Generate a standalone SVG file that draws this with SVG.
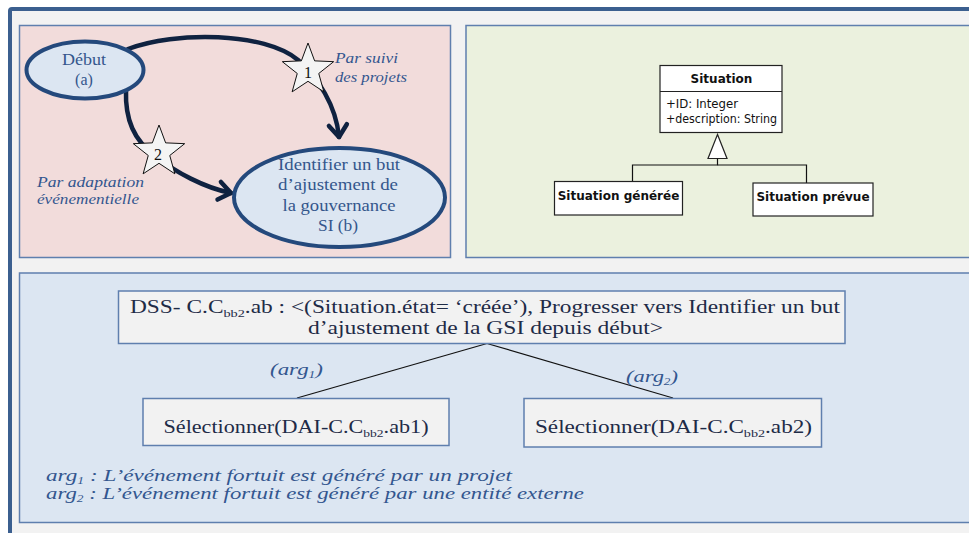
<svg xmlns="http://www.w3.org/2000/svg" width="969" height="533" viewBox="0 0 969 533">
<style>
.panel{stroke:#5f7fae;stroke-width:1.5}
.serif{font-family:"Liberation Serif","Times New Roman",serif}
.lbl{fill:#33568f;font-style:italic}
.node{fill:#dce6f2;stroke:#24497c;stroke-width:4}
.ntxt{fill:#34568c;font-size:16px;text-anchor:middle}
.arrow{fill:none;stroke:#0f2240;stroke-width:4.5;stroke-linecap:round}
.star{fill:#f4f4f4;stroke:#111;stroke-width:1}
.uml{fill:#fff;stroke:#222;stroke-width:1.2}
.umlt{font-family:"DejaVu Sans","Liberation Sans",sans-serif;font-size:12px;fill:#111}
.box{fill:#f2f2f2;stroke:#5f7fae;stroke-width:1.5}
.btxt{fill:#1e2b47;font-size:18px}
.link{stroke:#111;stroke-width:1.2;fill:none}
</style>
<defs>
<marker id="chev" markerUnits="userSpaceOnUse" markerWidth="30" markerHeight="30" viewBox="-16 -15 20 30" refX="0" refY="0" orient="auto">
<path d="M-12,-9 L0,0 L-12,9" fill="none" stroke="#0f2240" stroke-width="4.5" stroke-linecap="round" stroke-linejoin="round"/>
</marker>
<polygon id="starShape" points="0,-27 6.64,-9.14 25.68,-8.34 10.75,3.49 15.87,21.84 0,11.3 -15.87,21.84 -10.75,3.49 -25.68,-8.34 -6.64,-9.14"/>
</defs>
<rect x="0" y="0" width="969" height="533" fill="#ffffff"/>
<rect x="10" y="9" width="990" height="560" rx="2" fill="#f2f2f2" stroke="#3b5f8f" stroke-width="4"/>
<rect class="panel" x="19.5" y="25.5" width="431" height="232" fill="#f2dcdb"/>
<rect class="panel" x="466" y="25.5" width="520" height="232" fill="#ebf1de"/>
<rect class="panel" x="19.5" y="273" width="970" height="249.5" fill="#dce6f2"/>

<g id="connectors">
<path class="arrow" d="M128,49 C175,31 265,32 298,60 C318,78 336,105 339,137" marker-end="url(#chev)"/>
<path class="arrow" d="M126,90 C125,120 134,140 155,156 C175,172 205,188 231,193" marker-end="url(#chev)"/>
<line class="link" x1="487" y1="343.5" x2="297" y2="398"/>
<line class="link" x1="487" y1="343.5" x2="673" y2="398"/>
<g id="uml-generalization">
<polygon points="717.5,134.5 708,158.5 727,158.5" fill="#fff" stroke="#222" stroke-width="1.2"/>
<polyline points="717.5,158.5 717.5,165 632.5,165 632.5,181.5" class="link"/>
<polyline points="717.5,165 806.5,165 806.5,183" class="link"/>
</g>
</g>

<g id="star1">
<use href="#starShape" class="star" transform="translate(308,70)"/>
<text class="serif" x="308" y="77.5" font-size="16" text-anchor="middle" fill="#111">1</text>
</g>
<g id="star2">
<use href="#starShape" class="star" transform="translate(159,152)"/>
<text class="serif" x="158" y="159.5" font-size="16" text-anchor="middle" fill="#111">2</text>
</g>

<g id="debut">
<ellipse class="node" cx="85" cy="70" rx="58.5" ry="28.5"/>
<text class="serif ntxt" x="84" y="65" textLength="44" lengthAdjust="spacingAndGlyphs">Début</text>
<text class="serif ntxt" x="84" y="85">(a)</text>
</g>
<g id="identifier">
<ellipse class="node" cx="339.5" cy="197.5" rx="105.5" ry="49.5"/>
<text class="serif ntxt" x="339" y="170" textLength="122" lengthAdjust="spacingAndGlyphs">Identifier un but</text>
<text class="serif ntxt" x="338" y="190" textLength="120" lengthAdjust="spacingAndGlyphs">d’ajustement de</text>
<text class="serif ntxt" x="339" y="211" textLength="113" lengthAdjust="spacingAndGlyphs">la gouvernance</text>
<text class="serif ntxt" x="338" y="231" textLength="40" lengthAdjust="spacingAndGlyphs">SI (b)</text>
</g>
<g id="labels-left">
<text class="serif lbl" x="335" y="63" font-size="15" textLength="63" lengthAdjust="spacingAndGlyphs">Par suivi</text>
<text class="serif lbl" x="335" y="82" font-size="15" textLength="72" lengthAdjust="spacingAndGlyphs">des projets</text>
<text class="serif lbl" x="37" y="187" font-size="15" textLength="107" lengthAdjust="spacingAndGlyphs">Par adaptation</text>
<text class="serif lbl" x="37" y="204" font-size="15" textLength="102" lengthAdjust="spacingAndGlyphs">événementielle</text>
</g>

<g id="situation">
<rect class="uml" x="660" y="65.5" width="122" height="67"/>
<line x1="660" y1="91.5" x2="782" y2="91.5" stroke="#222" stroke-width="1.2"/>
<text class="umlt" x="721.5" y="83" font-weight="bold" text-anchor="middle">Situation</text>
<text class="umlt" x="666" y="108" font-size="11" textLength="72" lengthAdjust="spacingAndGlyphs">+ID: Integer</text>
<text class="umlt" x="666" y="123" font-size="11" textLength="111" lengthAdjust="spacingAndGlyphs">+description: String</text>
</g>
<g id="situation-generee">
<rect class="uml" x="554.5" y="181.5" width="128" height="33.5"/>
<text class="umlt" x="618.5" y="199.5" font-weight="bold" text-anchor="middle">Situation générée</text>
</g>
<g id="situation-prevue">
<rect class="uml" x="753" y="183" width="120" height="33"/>
<text class="umlt" x="813" y="201" font-weight="bold" text-anchor="middle">Situation prévue</text>
</g>

<g id="dss">
<rect class="box" x="118.5" y="291" width="726.5" height="52.5"/>
<text class="serif btxt" x="130" y="313" textLength="710" lengthAdjust="spacingAndGlyphs">DSS- C.C<tspan font-size="11" dy="4">bb2</tspan><tspan dy="-4">.ab : &lt;(Situation.état= ‘créée’), Progresser vers Identifier un but</tspan></text>
<text class="serif btxt" x="308" y="333.5" textLength="355" lengthAdjust="spacingAndGlyphs">d’ajustement de la GSI depuis début&gt;</text>
</g>
<g id="sel1">
<rect class="box" x="143" y="398.5" width="306" height="47"/>
<text class="serif btxt" x="163.5" y="433" textLength="265" lengthAdjust="spacingAndGlyphs">Sélectionner(DAI-C.C<tspan font-size="11" dy="4">bb2</tspan><tspan dy="-4">.ab1)</tspan></text>
</g>
<g id="sel2">
<rect class="box" x="524" y="398.5" width="297.5" height="48.5"/>
<text class="serif btxt" x="535" y="433" textLength="277" lengthAdjust="spacingAndGlyphs">Sélectionner(DAI-C.C<tspan font-size="11" dy="4">bb2</tspan><tspan dy="-4">.ab2)</tspan></text>
</g>
<g id="arg-labels">
<text class="serif lbl" x="270" y="375" font-size="17" textLength="53" lengthAdjust="spacingAndGlyphs">(arg<tspan font-size="10" dy="3">1</tspan><tspan dy="-3">)</tspan></text>
<text class="serif lbl" x="626" y="382" font-size="17" textLength="52" lengthAdjust="spacingAndGlyphs">(arg<tspan font-size="10" dy="3">2</tspan><tspan dy="-3">)</tspan></text>
</g>
<g id="legend">
<text class="serif lbl" x="46" y="481" font-size="17" textLength="466" lengthAdjust="spacingAndGlyphs">arg<tspan font-size="10" dy="3">1</tspan><tspan dy="-3"> :  L’événement fortuit est généré par un projet</tspan></text>
<text class="serif lbl" x="46" y="498.5" font-size="17" textLength="538" lengthAdjust="spacingAndGlyphs">arg<tspan font-size="10" dy="3">2</tspan><tspan dy="-3"> : L’événement fortuit est généré par une entité externe</tspan></text>
</g>
</svg>
